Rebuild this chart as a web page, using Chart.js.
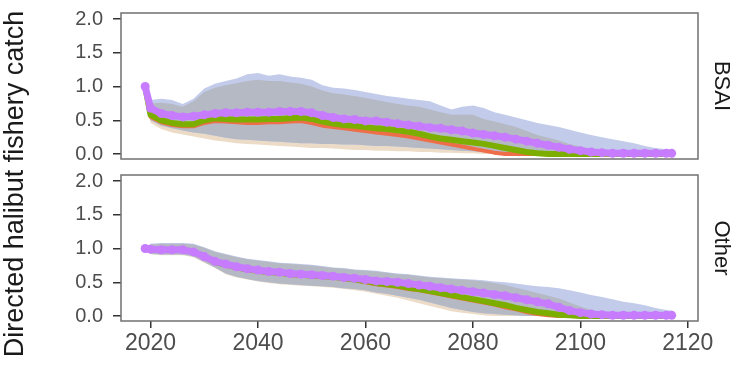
<!DOCTYPE html>
<html>
<head>
<meta charset="utf-8">
<script src="https://cdn.jsdelivr.net/npm/chart.js@4.4.0/dist/chart.umd.min.js"></script>
<style>
  html, body { margin: 0; padding: 0; background: #fff; overflow: hidden; }
  #wrap { position: relative; width: 731px; height: 368px; overflow: hidden; }
  #wrap canvas { position: absolute; left: 0; }
  #bsaiChart { top: -50px; }
  #otherChart { top: 0; }
</style>
</head>
<body>
<div id="wrap">
  <canvas id="bsaiChart" width="731" height="418"></canvas>
  <canvas id="otherChart" width="731" height="368"></canvas>
</div>
<script>
const years = [
  2019, 2020, 2022, 2024, 2026, 2028, 2030, 2032, 2034, 2036,
  2038, 2040, 2042, 2044, 2046, 2048, 2050, 2052, 2054, 2056,
  2058, 2060, 2062, 2064, 2066, 2068, 2070, 2072, 2074, 2076,
  2078, 2080, 2082, 2084, 2086, 2088, 2090, 2092, 2094, 2096,
  2098, 2100, 2102, 2104, 2106, 2108, 2110, 2112, 2114, 2116,
  2117
];
const xTicks = [2020, 2040, 2060, 2080, 2100, 2120];
const yTicks = [0, 0.5, 1, 1.5, 2];

// BSAI
const bsaiPurple = [
  1.00, 0.68, 0.60, 0.57, 0.55, 0.56, 0.58, 0.60, 0.61, 0.61,
  0.62, 0.62, 0.62, 0.63, 0.63, 0.63, 0.61, 0.57, 0.54, 0.52,
  0.51, 0.49, 0.49, 0.47, 0.45, 0.43, 0.41, 0.39, 0.38, 0.36,
  0.34, 0.31, 0.29, 0.27, 0.25, 0.22, 0.19, 0.16, 0.13, 0.10,
  0.07, 0.05, 0.03, 0.02, 0.01, 0.01, 0.01, 0.01, 0.01, 0.01,
  0.01
];
const bsaiGreen = [
  1.00, 0.58, 0.50, 0.46, 0.44, 0.44, 0.50, 0.53, 0.52, 0.51,
  0.51, 0.51, 0.52, 0.52, 0.53, 0.54, 0.52, 0.48, 0.45, 0.43,
  0.42, 0.40, 0.38, 0.37, 0.35, 0.33, 0.30, 0.26, 0.23, 0.21,
  0.19, 0.17, 0.15, 0.12, 0.09, 0.06, 0.03, 0.01, 0.00, 0.00,
  0.00, 0.00, 0.00, 0.00, 0.00, 0.00, 0.00, 0.00, 0.00, 0.00,
  0.00
];
const bsaiRed = [
  1.00, 0.55, 0.47, 0.43, 0.41, 0.41, 0.46, 0.49, 0.48, 0.47,
  0.46, 0.46, 0.47, 0.47, 0.48, 0.49, 0.46, 0.42, 0.40, 0.38,
  0.36, 0.34, 0.32, 0.30, 0.28, 0.26, 0.23, 0.20, 0.17, 0.14,
  0.11, 0.08, 0.05, 0.02, 0.00, 0.00, 0.00, 0.00, 0.00, 0.00,
  0.00, 0.00, 0.00, 0.00, 0.00, 0.00, 0.00, 0.00, 0.00, 0.00,
  0.00
];
const bsaiOuterHi = [
  1.00, 0.80, 0.82, 0.80, 0.74, 0.82, 0.97, 1.04, 1.08, 1.12,
  1.18, 1.20, 1.16, 1.18, 1.15, 1.13, 1.10, 1.02, 0.98, 0.97,
  0.95, 0.92, 0.89, 0.86, 0.84, 0.82, 0.80, 0.78, 0.72, 0.66,
  0.70, 0.72, 0.68, 0.62, 0.58, 0.54, 0.50, 0.46, 0.43, 0.40,
  0.36, 0.32, 0.28, 0.25, 0.22, 0.19, 0.16, 0.12, 0.09, 0.07,
  0.06
];
const bsaiInnerHi = [
  1.00, 0.75, 0.76, 0.74, 0.70, 0.78, 0.92, 0.98, 1.02, 1.05,
  1.08, 1.10, 1.08, 1.08, 1.06, 1.04, 1.00, 0.94, 0.90, 0.88,
  0.86, 0.83, 0.80, 0.77, 0.74, 0.72, 0.70, 0.66, 0.62, 0.58,
  0.58, 0.58, 0.52, 0.48, 0.44, 0.40, 0.34, 0.28, 0.24, 0.20,
  0.15, 0.11, 0.07, 0.04, 0.02, 0.01, 0.01, 0.01, 0.01, 0.01,
  0.01
];
const bsaiInnerLo = [
  1.00, 0.50, 0.42, 0.38, 0.35, 0.32, 0.30, 0.27, 0.24, 0.22,
  0.21, 0.20, 0.19, 0.18, 0.17, 0.16, 0.16, 0.15, 0.15, 0.14,
  0.14, 0.13, 0.12, 0.12, 0.11, 0.10, 0.09, 0.08, 0.07, 0.06,
  0.05, 0.04, 0.03, 0.02, 0.01, 0.00, 0.00, 0.00, 0.00, 0.00,
  0.00, 0.00, 0.00, 0.00, 0.00, 0.00, 0.00, 0.00, 0.00, 0.00,
  0.00
];
const bsaiOuterLo = [
  1.00, 0.46, 0.37, 0.32, 0.29, 0.26, 0.23, 0.20, 0.18, 0.16,
  0.15, 0.14, 0.13, 0.12, 0.11, 0.10, 0.09, 0.09, 0.08, 0.07,
  0.06, 0.06, 0.05, 0.05, 0.04, 0.04, 0.03, 0.03, 0.02, 0.02,
  0.01, 0.01, 0.00, 0.00, 0.00, 0.00, 0.00, 0.00, 0.00, 0.00,
  0.00, 0.00, 0.00, 0.00, 0.00, 0.00, 0.00, 0.00, 0.00, 0.00,
  0.00
];

// Other
const otherPurple = [
  1.00, 0.99, 0.98, 0.98, 0.98, 0.95, 0.88, 0.81, 0.77, 0.73,
  0.70, 0.68, 0.66, 0.65, 0.63, 0.62, 0.61, 0.60, 0.59, 0.57,
  0.56, 0.54, 0.52, 0.51, 0.50, 0.48, 0.46, 0.44, 0.42, 0.40,
  0.38, 0.36, 0.34, 0.32, 0.30, 0.27, 0.24, 0.21, 0.18, 0.13,
  0.08, 0.05, 0.03, 0.02, 0.01, 0.01, 0.01, 0.01, 0.01, 0.01,
  0.01
];
const otherGreen = [
  1.00, 0.99, 0.98, 0.98, 0.98, 0.95, 0.88, 0.80, 0.76, 0.72,
  0.69, 0.67, 0.65, 0.64, 0.62, 0.61, 0.60, 0.59, 0.58, 0.56,
  0.54, 0.52, 0.49, 0.47, 0.45, 0.42, 0.40, 0.37, 0.34, 0.31,
  0.28, 0.25, 0.22, 0.19, 0.16, 0.12, 0.09, 0.06, 0.04, 0.02,
  0.01, 0.00, 0.00, 0.00, 0.00, 0.00, 0.00, 0.00, 0.00, 0.00,
  0.00
];
const otherRed = [
  1.00, 0.99, 0.98, 0.98, 0.98, 0.95, 0.87, 0.80, 0.75, 0.71,
  0.68, 0.66, 0.64, 0.63, 0.61, 0.60, 0.59, 0.58, 0.57, 0.55,
  0.53, 0.50, 0.47, 0.45, 0.43, 0.40, 0.38, 0.35, 0.32, 0.29,
  0.26, 0.23, 0.20, 0.17, 0.13, 0.10, 0.06, 0.03, 0.01, 0.00,
  0.00, 0.00, 0.00, 0.00, 0.00, 0.00, 0.00, 0.00, 0.00, 0.00,
  0.00
];
const otherOuterHi = [
  1.00, 1.07, 1.08, 1.08, 1.08, 1.07, 1.02, 0.96, 0.92, 0.88,
  0.85, 0.83, 0.81, 0.79, 0.78, 0.77, 0.76, 0.74, 0.72, 0.71,
  0.69, 0.68, 0.67, 0.65, 0.63, 0.62, 0.60, 0.58, 0.57, 0.56,
  0.55, 0.54, 0.53, 0.51, 0.50, 0.48, 0.46, 0.44, 0.43, 0.41,
  0.38, 0.35, 0.31, 0.28, 0.25, 0.21, 0.19, 0.16, 0.12, 0.09,
  0.08
];
const otherInnerHi = [
  1.00, 1.06, 1.07, 1.07, 1.07, 1.06, 1.01, 0.95, 0.91, 0.87,
  0.84, 0.82, 0.80, 0.78, 0.77, 0.76, 0.75, 0.73, 0.71, 0.70,
  0.68, 0.67, 0.66, 0.64, 0.62, 0.61, 0.59, 0.57, 0.56, 0.55,
  0.54, 0.53, 0.51, 0.49, 0.46, 0.42, 0.38, 0.34, 0.30, 0.26,
  0.20, 0.14, 0.09, 0.05, 0.03, 0.02, 0.01, 0.01, 0.01, 0.01,
  0.01
];
const otherInnerLo = [
  1.00, 0.92, 0.91, 0.91, 0.91, 0.88, 0.80, 0.72, 0.63, 0.58,
  0.55, 0.52, 0.50, 0.48, 0.47, 0.46, 0.45, 0.44, 0.43, 0.41,
  0.40, 0.38, 0.35, 0.33, 0.30, 0.27, 0.24, 0.20, 0.16, 0.12,
  0.09, 0.06, 0.04, 0.03, 0.02, 0.01, 0.00, 0.00, 0.00, 0.00,
  0.00, 0.00, 0.00, 0.00, 0.00, 0.00, 0.00, 0.00, 0.00, 0.00,
  0.00
];
const otherOuterLo = [
  1.00, 0.92, 0.90, 0.90, 0.90, 0.87, 0.79, 0.71, 0.62, 0.57,
  0.54, 0.51, 0.49, 0.47, 0.46, 0.45, 0.44, 0.43, 0.42, 0.40,
  0.38, 0.36, 0.33, 0.30, 0.27, 0.23, 0.19, 0.15, 0.11, 0.07,
  0.05, 0.03, 0.01, 0.00, 0.00, 0.00, 0.00, 0.00, 0.00, 0.00,
  0.00, 0.00, 0.00, 0.00, 0.00, 0.00, 0.00, 0.00, 0.00, 0.00,
  0.00
];

const FONT = '"Liberation Sans", Arial, Helvetica, sans-serif';
const toPoints = arr => years.map((yr, i) => ({ x: yr, y: arr[i] }));

// frame round the panel + the facet label on the right
const panelFrame = {
  id: 'panelFrame',
  afterDatasetsDraw(chart, args, opts) {
    const { ctx, chartArea: a } = chart;
    ctx.save();
    ctx.strokeStyle = '#707070';
    ctx.lineWidth = 1.5;
    ctx.strokeRect(a.left, a.top, a.right - a.left, a.bottom - a.top);
    ctx.translate(a.right + 23, (a.top + a.bottom) / 2);
    ctx.rotate(Math.PI / 2);
    ctx.fillStyle = '#1a1a1a';
    ctx.font = '22px ' + FONT;
    ctx.textAlign = 'center';
    ctx.textBaseline = 'middle';
    ctx.fillText(opts.label, 0, 0);
    ctx.restore();

    if (opts.yTitle) {
      ctx.save();
      ctx.translate(16, 184);
      ctx.rotate(-Math.PI / 2);
      ctx.fillStyle = '#1a1a1a';
      ctx.font = '27px ' + FONT;
      ctx.textAlign = 'center';
      ctx.textBaseline = 'middle';
      ctx.fillText(opts.yTitle, 0, 0);
      ctx.restore();
    }
  }
};

function makeDatasets(s) {
  const band = { borderWidth: 0, pointRadius: 0 };
  return [
    { ...band, data: toPoints(s.outerLo), fill: false, order: 40 },
    { ...band, data: toPoints(s.innerLo), fill: false, order: 40 },
    { ...band, data: toPoints(s.innerHi), fill: 0, backgroundColor: '#ecdbc6', order: 30 },
    { ...band, data: toPoints(s.outerHi), fill: 1, backgroundColor: '#c2cbe9', order: 20 },
    { ...band, data: toPoints(s.innerHi), fill: 1, backgroundColor: '#b5b9c4', order: 10 },
    { data: toPoints(s.red), borderColor: '#ee6e4a', borderWidth: 4, pointRadius: 0, fill: false, order: 3 },
    { data: toPoints(s.green), borderColor: '#7cae00', borderWidth: 6, pointRadius: 0, fill: false, order: 2 },
    { data: toPoints(s.purple), borderColor: '#c77cff', borderWidth: 7, pointRadius: 4.5,
      pointBackgroundColor: '#c77cff', pointBorderWidth: 0, fill: false, order: 1 }
  ];
}

function makeOptions(label, showX, padding, yTitle) {
  return {
    responsive: false,
    animation: false,
    layout: { padding },
    elements: { line: { tension: 0, borderJoinStyle: 'round', borderCapStyle: 'round' } },
    plugins: {
      legend: { display: false },
      tooltip: { enabled: false },
      panelFrame: { label, yTitle }
    },
    scales: {
      x: {
        type: 'linear',
        min: 2014.5,
        max: 2121.9,
        display: showX,
        afterBuildTicks: s => { s.ticks = xTicks.map(v => ({ value: v })); },
        afterFit: s => { if (showX) s.height = 47; },
        border: { display: false },
        grid: { drawOnChartArea: false, tickLength: 7, color: '#333', lineWidth: 1.5 },
        ticks: {
          autoSkip: false, maxRotation: 0, padding: 2,
          color: '#4d4d4d', font: { family: FONT, size: 23 },
          callback: v => String(v)
        }
      },
      y: {
        min: -0.074,
        max: 2.089,
        afterBuildTicks: s => { s.ticks = yTicks.map(v => ({ value: v })); },
        afterFit: s => { s.width = 121; },
        border: { display: false },
        grid: { drawOnChartArea: false, tickLength: 8, color: '#333', lineWidth: 1.5 },
        ticks: {
          autoSkip: false, padding: 10, color: '#4d4d4d', font: { family: FONT, size: 20 },
          callback: v => v.toFixed(1)
        }
      }
    }
  };
}

// top canvas sits 50px above the page so the panel can start near the top edge
new Chart(document.getElementById('bsaiChart'), {
  type: 'line',
  data: {
    datasets: makeDatasets({
      outerLo: bsaiOuterLo, innerLo: bsaiInnerLo, innerHi: bsaiInnerHi, outerHi: bsaiOuterHi,
      red: bsaiRed, green: bsaiGreen, purple: bsaiPurple
    })
  },
  options: makeOptions('BSAI', false, { top: 63, right: 33, bottom: 209, left: 0 }),
  plugins: [panelFrame]
});

new Chart(document.getElementById('otherChart'), {
  type: 'line',
  data: {
    datasets: makeDatasets({
      outerLo: otherOuterLo, innerLo: otherInnerLo, innerHi: otherInnerHi, outerHi: otherOuterHi,
      red: otherRed, green: otherGreen, purple: otherPurple
    })
  },
  options: makeOptions('Other', true, { top: 175, right: 33, bottom: 0, left: 0 },
    'Directed halibut fishery catch'),
  plugins: [panelFrame]
});
</script>
</body>
</html>
